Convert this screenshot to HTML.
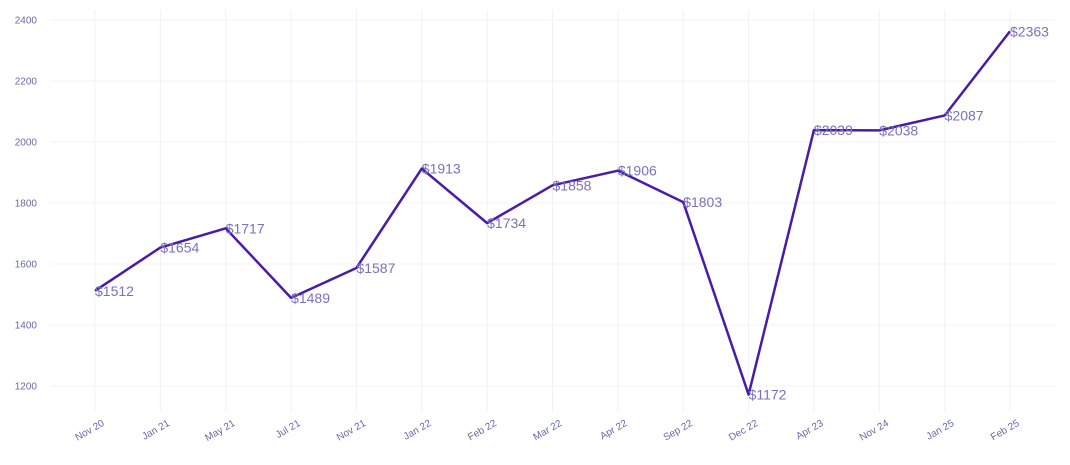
<!DOCTYPE html>
<html><head><meta charset="utf-8"><style>
body{margin:0;background:#fff;}
svg{display:block;font-family:"Liberation Sans",sans-serif;}
</style></head><body>
<svg id="chart" width="1070" height="465"></svg>
<script>
const categories=["Nov 20","Jan 21","May 21","Jul 21","Nov 21","Jan 22","Feb 22","Mar 22","Apr 22","Sep 22","Dec 22","Apr 23","Nov 24","Jan 25","Feb 25"];
const values=[1512,1654,1717,1489,1587,1913,1734,1858,1906,1803,1172,2039,2038,2087,2363];
const yTicks=[1200,1400,1600,1800,2000,2200,2400];
const NS="http://www.w3.org/2000/svg";
const chartSvg=document.getElementById('chart');
const plotX0=95,plotX1=1010,plotLeft=50,plotRight=1055,plotTop=10,plotBottom=412;
const xScale=i=>plotX0+i*(plotX1-plotX0)/(categories.length-1);
const yScale=v=>386-(v-1200)*(366/1200);
function mk(t,a){const e=document.createElementNS(NS,t);for(const k in a)e.setAttribute(k,a[k]);chartSvg.appendChild(e);return e;}
yTicks.forEach(t=>{
  const l=mk('line',{x1:plotLeft,x2:plotRight,y1:yScale(t),y2:yScale(t),stroke:'#f1f0fb','stroke-width':1});
  
  
  const tx=mk('text',{x:37,y:yScale(t)+3.5,'text-anchor':'end','font-size':10,fill:'#6b68a8'});
  tx.textContent=t;
  
  
});
categories.forEach((c,i)=>{
  const x=xScale(i);
  const l=mk('line',{x1:x,x2:x,y1:plotTop,y2:plotBottom,stroke:'#f1f0fb','stroke-width':1});
  
  
  const tx=mk('text',{x:x+10,y:plotBottom+13,'text-anchor':'end','font-size':10,fill:'#6b68a8',transform:`rotate(-30 ${x+10} ${plotBottom+13})`});
  tx.textContent=c;
  
  
});
const pts=values.map((v,i)=>xScale(i)+','+yScale(v)).join(' ');
const line=mk('polyline',{points:pts,fill:'none',stroke:'#4a1aa8','stroke-width':2.5,'stroke-linejoin':'round'});


values.forEach((v,i)=>{
  const tx=mk('text',{x:xScale(i),y:yScale(v)+5,'font-size':14,fill:'#7a72b8'});
  tx.textContent='$'+v;
  
  
});
</script>
</body></html>
